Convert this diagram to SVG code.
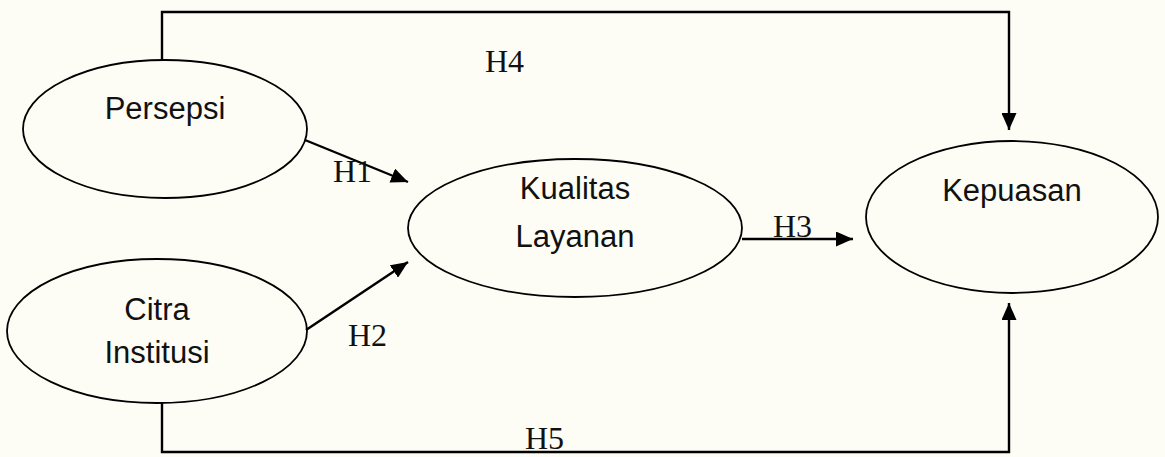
<svg xmlns="http://www.w3.org/2000/svg" width="1165" height="457" viewBox="0 0 1165 457">
<style>
.node{fill:none;stroke:#000;stroke-width:1.8}
.lbl{font-family:"Liberation Sans",Arial,sans-serif;font-size:31px;fill:#111;text-anchor:middle}
.h{font-family:"Liberation Serif","Times New Roman",serif;font-size:32px;fill:#111}
.edge{fill:none;stroke:#000;stroke-width:2.4}
</style>
<defs>
<marker id="ah" markerUnits="userSpaceOnUse" markerWidth="17" markerHeight="15" refX="17" refY="7.5" orient="auto">
<path d="M0,0 L17,7.5 L0,15 Z" fill="#000"/>
</marker>
</defs>
<rect x="0" y="0" width="1165" height="457" fill="#fdfdf6"/>
<g id="persepsi">
<ellipse class="node" cx="165" cy="129" rx="142" ry="69"/>
<text class="lbl" x="165" y="119">Persepsi</text>
</g>
<g id="citra">
<ellipse class="node" cx="157" cy="331" rx="150" ry="72"/>
<text class="lbl" x="157" y="320">Citra</text>
<text class="lbl" x="157" y="363">Institusi</text>
</g>
<g id="kualitas">
<ellipse class="node" cx="575" cy="228" rx="167" ry="69"/>
<text class="lbl" x="575" y="199">Kualitas</text>
<text class="lbl" x="575" y="247">Layanan</text>
</g>
<g id="kepuasan">
<ellipse class="node" cx="1012" cy="217" rx="146" ry="76"/>
<text class="lbl" x="1012" y="201">Kepuasan</text>
</g>
<g id="connectors">
<path class="edge" d="M162,61 V12 H1009 V130" marker-end="url(#ah)"/>
<line class="edge" x1="305" y1="140" x2="408" y2="182" marker-end="url(#ah)"/>
<line class="edge" x1="306" y1="330" x2="408" y2="262" marker-end="url(#ah)"/>
<line class="edge" x1="742" y1="239" x2="853" y2="239" marker-end="url(#ah)"/>
<path class="edge" d="M162,403 V452 H1009 V303" marker-end="url(#ah)"/>
<text class="h" x="485" y="72">H4</text>
<text class="h" x="333" y="182">H1</text>
<text class="h" x="348" y="346">H2</text>
<text class="h" x="773" y="237">H3</text>
<text class="h" x="525" y="449">H5</text>
</g>
</svg>
